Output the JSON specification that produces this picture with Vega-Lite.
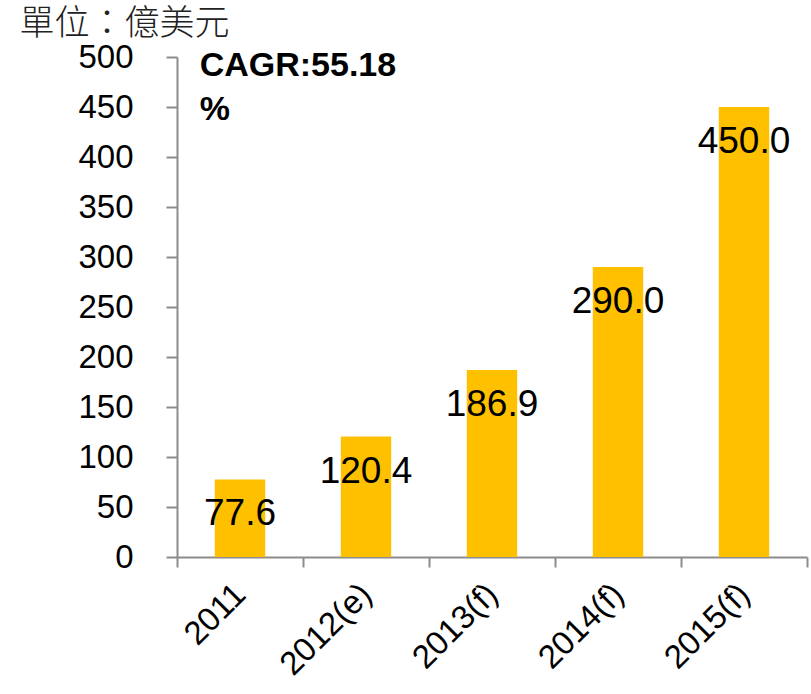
{
  "$schema": "https://vega.github.io/schema/vega-lite/v6.json",
  "width": 630,
  "height": 500,
  "autosize": {"type": "none"},
  "padding": {"left": 177, "top": 57, "right": 4, "bottom": 137},
  "background": "white",
  "config": {
    "view": {"stroke": null},
    "font": "Liberation Sans"
  },
  "data": {
    "values": [
      {"year": "2011", "value": 77.6, "label": "77.6"},
      {"year": "2012(e)", "value": 120.4, "label": "120.4"},
      {"year": "2013(f)", "value": 186.9, "label": "186.9"},
      {"year": "2014(f)", "value": 290.0, "label": "290.0"},
      {"year": "2015(f)", "value": 450.0, "label": "450.0"}
    ]
  },
  "encoding": {
    "x": {
      "field": "year",
      "type": "nominal",
      "sort": null,
      "scale": {"paddingInner": 0, "paddingOuter": 0},
      "axis": {
        "title": null,
        "labelAngle": -45,
        "labelAlign": "right",
        "labelBaseline": "middle",
        "labelFontSize": 33,
        "labelColor": "#000000",
        "labelPadding": 22,
        "labelFont": "Liberation Sans",
        "domainColor": "#8c8c8c",
        "domainWidth": 2,
        "tickColor": "#8c8c8c",
        "tickWidth": 2,
        "tickSize": 10,
        "tickBand": "extent"
      }
    }
  },
  "layer": [
    {
      "mark": {"type": "bar", "color": "#FFC000", "width": {"band": 0.4}},
      "encoding": {
        "y": {
          "field": "value",
          "type": "quantitative",
          "scale": {"domain": [0, 500], "nice": false},
          "axis": {
            "values": [0, 50, 100, 150, 200, 250, 300, 350, 400, 450, 500],
            "grid": false,
            "labelFontSize": 33,
            "labelColor": "#000000",
            "labelPadding": 33,
            "labelFont": "Liberation Sans",
            "domainColor": "#8c8c8c",
            "domainWidth": 2,
            "tickColor": "#8c8c8c",
            "tickWidth": 2,
            "tickSize": 11,
            "title": "單位：億美元",
            "titleAngle": 0,
            "titleX": -158,
            "titleY": -34,
            "titleAlign": "left",
            "titleBaseline": "middle",
            "titleFont": "Noto Sans CJK TC",
            "titleFontWeight": 300,
            "titleFontSize": 35,
            "titleColor": "#222222"
          }
        }
      }
    },
    {
      "mark": {"type": "text", "fontSize": 37, "baseline": "middle", "align": "center", "dy": 35, "color": "#000000"},
      "encoding": {
        "y": {"field": "value", "type": "quantitative"},
        "text": {"field": "label"}
      }
    },
    {
      "data": {"values": [{"year": "2011", "pos": 491, "note": "CAGR:55.18\n%"}]},
      "mark": {"type": "text", "fontSize": 34, "fontWeight": "bold", "align": "left", "baseline": "middle", "lineBreak": "\n", "lineHeight": 44, "color": "#000000"},
      "encoding": {
        "x": {"field": "year", "type": "nominal", "bandPosition": 0.18},
        "y": {"field": "pos", "type": "quantitative"},
        "text": {"field": "note"}
      }
    }
  ]
}
